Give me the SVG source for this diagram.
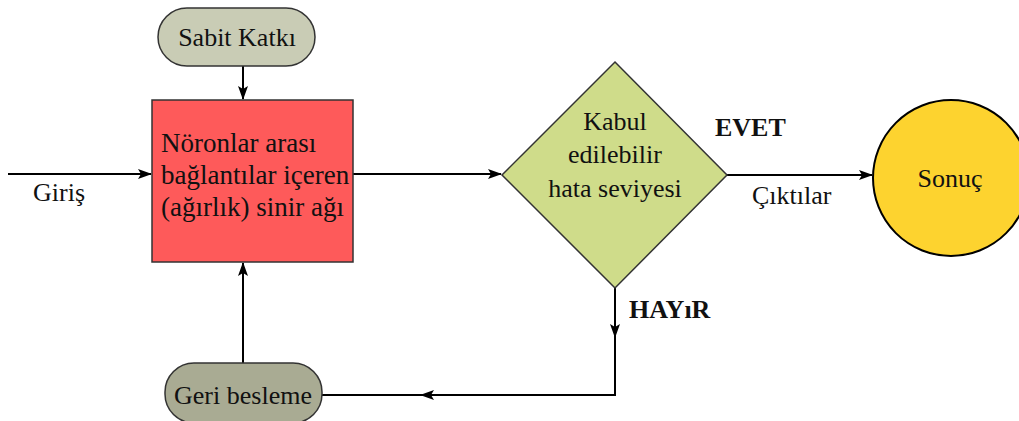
<svg xmlns="http://www.w3.org/2000/svg" width="1019" height="421" viewBox="0 0 1019 421">
<defs>
<marker id="ah" markerWidth="14" markerHeight="10" refX="13" refY="5" orient="auto" markerUnits="userSpaceOnUse">
<path d="M0,0 L14,5 L0,10 L3,5 Z" fill="#000"/>
</marker>
</defs>
<style>
text{font-family:'Liberation Serif','Times New Roman',serif;fill:#111}
.t{font-size:26px}
.r{font-size:27px}
.b{font-size:26px;font-weight:bold}
.c{fill:none;stroke:#000;stroke-width:2}
.n{stroke:#333;stroke-width:1.5}
</style>
<rect width="1019" height="421" fill="#fff"/>
<g id="connectors">
<path class="c" d="M8,174 H151" marker-end="url(#ah)"/>
<path class="c" d="M243,66 V99" marker-end="url(#ah)"/>
<path class="c" d="M353,174 H501" marker-end="url(#ah)"/>
<path class="c" d="M727,175 H872" marker-end="url(#ah)"/>
<path class="c" d="M615,288 V337" marker-end="url(#ah)"/>
<path class="c" d="M615,330 V395 H421" marker-end="url(#ah)"/>
<path class="c" d="M430,395 H322"/>
<path class="c" d="M243,363 V263" marker-end="url(#ah)"/>
<text class="t" x="33" y="201">Giriş</text>
<text class="b" x="715" y="136">EVET</text>
<text class="t" x="752" y="204">Çıktılar</text>
<text class="b" x="629" y="318">HAYıR</text>
</g>
<g id="sabit">
<rect class="n" x="158" y="8" width="157" height="58" rx="29" fill="#c9ccb5"/>
<text class="t" x="237" y="46" text-anchor="middle">Sabit Katkı</text>
</g>
<g id="noron">
<rect class="n" x="152" y="100" width="201" height="162" fill="#fe5a5a"/>
<text class="r" x="161" y="152">Nöronlar arası</text>
<text class="r" x="161" y="184">bağlantılar içeren</text>
<text class="r" x="161" y="216">(ağırlık) sinir ağı</text>
</g>
<g id="karar">
<polygon class="n" points="615,62 727,175 615,288 502,175" fill="#cfdc8a"/>
<text class="t" x="615" y="130" text-anchor="middle">Kabul</text>
<text class="t" x="615" y="163" text-anchor="middle">edilebilir</text>
<text class="t" x="615" y="197" text-anchor="middle">hata seviyesi</text>
</g>
<g id="sonuc">
<circle cx="951" cy="178" r="78" fill="#fdd32f" stroke="#000" stroke-width="2"/>
<text class="t" x="950" y="187" text-anchor="middle">Sonuç</text>
</g>
<g id="geri">
<rect class="n" x="165" y="363" width="157" height="60" rx="29" fill="#a9ab93"/>
<text class="t" x="243" y="404" text-anchor="middle">Geri besleme</text>
</g>
</svg>
